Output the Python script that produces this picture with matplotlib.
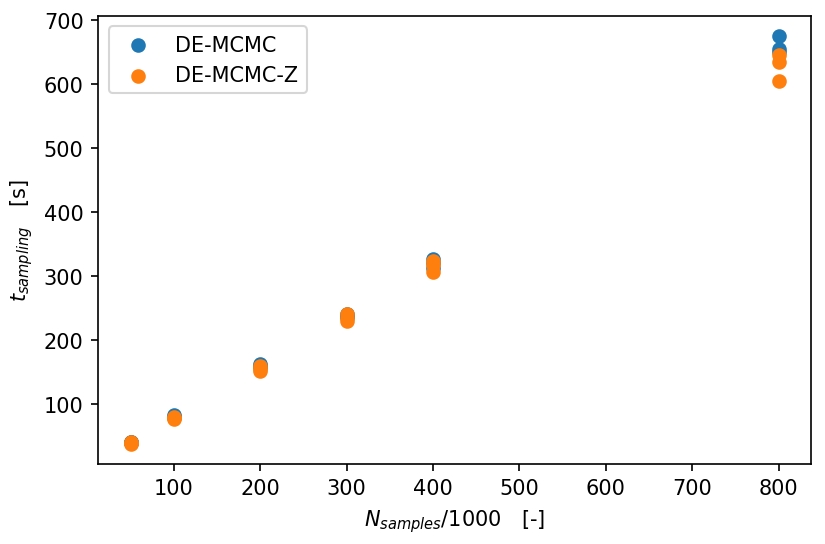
import matplotlib
matplotlib.use("Agg")
import matplotlib.pyplot as plt

n_samples = [50, 50, 50, 100, 100, 100, 200, 200, 200, 300, 300, 300, 400, 400, 400, 800, 800, 800]
t_demcmc = [41, 40, 39, 82, 80, 79, 162, 160, 158, 241, 238, 236, 326, 320, 312, 675, 655, 650]
t_demcmcz = [40, 39, 38, 80, 78, 77, 160, 155, 151, 240, 235, 229, 324, 318, 307, 645, 635, 605]

fig, ax = plt.subplots(figsize=(5.5, 3.633), dpi=150)
ax.scatter(n_samples, t_demcmc, label="DE-MCMC")
ax.scatter(n_samples, t_demcmcz, label="DE-MCMC-Z")
ax.set_xlabel(r"$N_{samples}/1000$   [-]")
ax.set_ylabel(r"$t_{sampling}$   [s]")
ax.set_yticks([100, 200, 300, 400, 500, 600, 700])
ax.legend(loc="upper left")
fig.subplots_adjust(left=0.119, right=0.983, top=0.969, bottom=0.147)
fig.savefig("out.png")
